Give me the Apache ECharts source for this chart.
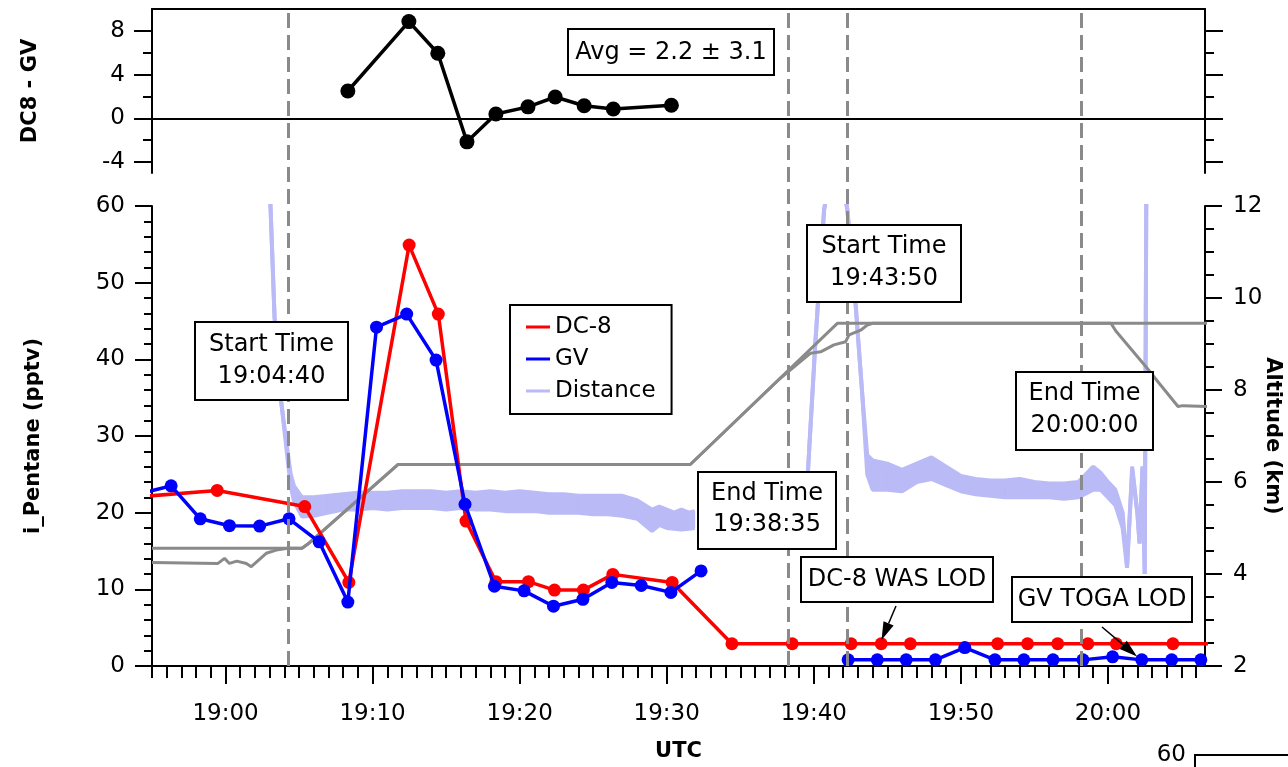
<!DOCTYPE html>
<html><head><meta charset="utf-8">
<script src="https://cdn.jsdelivr.net/npm/echarts@6/dist/echarts.min.js"></script>
<style>html,body{margin:0;padding:0;background:#fff}#c{width:1288px;height:767px}</style>
</head><body><div id="c"></div>
<script>
// ---------------- DATA ----------------
const xTickLabels = ['19:00','19:10','19:20','19:30','19:40','19:50','20:00'];
const xMinTime = '18:55:00';
const xMaxTime = '20:06:36';
const yTopTickLabels = [-4, 0, 4, 8];
const yTopMinorTicks = [-2, 2, 6];

// DC8 - GV difference (top panel)
const diffTimes  = ['19:08:19','19:12:28','19:14:26','19:16:25','19:18:23','19:20:34','19:22:25','19:24:23','19:26:22','19:30:19'];
const diffValues = [2.5, 8.85, 5.95, -2.15, 0.4, 1.05, 1.95, 1.15, 0.85, 1.2];

// DC-8 i_Pentane (pptv)
const dc8Times  = ['18:53:00','18:59:26','19:05:23','19:08:23','19:12:29','19:14:28','19:16:21','19:18:23','19:20:36','19:22:22','19:24:20','19:26:20','19:30:22','19:34:26','19:38:32','19:42:32','19:44:35','19:46:34','19:52:30','19:54:32','19:56:35','19:58:38','20:00:34','20:04:25','20:08:00'];
const dc8Values = [21.9, 22.9, 20.8, 10.9, 54.9, 45.9, 18.9, 11.0, 11.0, 9.9, 9.9, 11.95, 10.9, 2.9, 2.9, 2.9, 2.9, 2.9, 2.9, 2.9, 2.9, 2.9, 2.9, 2.9, 2.9];

// GV i_Pentane (pptv)
const gvTimes  = ['18:54:00','18:56:18','18:58:17','19:00:16','19:02:19','19:04:19','19:06:22','19:08:19','19:10:16','19:12:19','19:14:19','19:16:17','19:18:17','19:20:18','19:22:18','19:24:18','19:26:16','19:28:16','19:30:17','19:32:20','19:37:00','19:42:20','19:44:19','19:46:17','19:48:16','19:50:16','19:52:19','19:54:17','19:56:16','19:58:18','20:00:19','20:02:18','20:04:20','20:06:19'];
const gvValues = [22.4, 23.5, 19.2, 18.3, 18.25, 19.2, 16.2, 8.34, 44.2, 45.9, 39.9, 21.1, 10.4, 9.8, 7.8, 8.7, 10.9, 10.5, 9.6, 12.4, null, 0.8, 0.8, 0.8, 0.8, 2.4, 0.8, 0.8, 0.8, 0.8, 1.2, 0.8, 0.8, 0.8];

// Distance (band: low / high edge, plotted on the i_Pentane scale)
const distTimes = ['19:03:00','19:03:20','19:03:47','19:04:01','19:04:13','19:04:26','19:04:39','19:05:12',
 '19:06:00','19:07:00','19:08:00','19:09:00','19:10:00','19:11:00','19:12:00','19:13:00','19:14:00','19:15:00','19:16:00','19:17:00','19:18:00','19:19:00','19:20:00','19:21:00','19:22:00','19:23:00','19:24:00','19:25:00','19:26:00','19:27:00','19:28:00',
 '19:29:00','19:29:30','19:30:00','19:30:30','19:31:00','19:31:30','19:31:54',
 '19:35:00',
 '19:39:30','19:40:06','19:40:42','19:41:00','19:41:58','19:42:17','19:42:51','19:43:18','19:43:38',
 '19:44:00','19:45:00','19:46:00','19:47:00','19:48:00','19:49:00','19:50:00','19:51:00','19:52:00','19:53:00','19:54:00','19:55:00','19:56:00','19:57:00','19:58:00','19:59:00',
 '19:59:30','20:00:00','20:00:30','20:01:00','20:01:18','20:01:39','20:02:00','20:02:09','20:02:21','20:02:30','20:02:37'];
const distLow = [63, 45.5, 34.5, 30.5, 27, 23.5, 21.5, 19.5,
 19.6, 20.0, 20.4, 20.4, 20.6, 20.4, 20.6, 20.6, 20.6, 20.4, 20.6, 20.4, 20.4, 20.2, 20.2, 20.2, 20.0, 20.0, 20.0, 19.8, 19.8, 19.6, 19.2,
 17.6, 18.4, 18.0, 17.9, 17.8, 17.9, 18.0,
 null,
 22, 42, 59.5, 63, 63, 59.5, 47, 35.3, 25,
 23.0, 23.0, 22.8, 24.0, 24.4, 23.6, 22.8, 22.4, 22.2, 22.0, 22.0, 22.0, 22.0, 21.8, 22.0, 23.0,
 23.0, 22.0, 21.0, 18, 12.8, 25.5, 20, 16, 26, 12, 65];
const distHigh = [63, 45.5, 34.5, 31, 28, 25, 23.5, 22.0,
 22.0, 22.2, 22.4, 22.6, 22.6, 22.6, 22.8, 22.8, 22.8, 22.6, 22.8, 22.6, 22.8, 22.6, 22.8, 22.6, 22.4, 22.4, 22.2, 22.2, 22.2, 22.2, 21.6,
 20.4, 20.8, 20.4, 20.0, 20.4, 20.0, 20.2,
 null,
 22, 42, 59.5, 63, 63, 59.5, 47, 35.3, 27.5,
 26.8, 26.4, 25.6, 26.4, 27.2, 26.0, 24.8, 24.4, 24.2, 24.2, 24.4, 24.0, 23.8, 23.8, 24.0, 26.0,
 25.2, 24.0, 23.0, 20, 13, 26, 20, 16, 26, 12, 65];

// Altitude (km), two aircraft tracks
const altATimes  = ['18:55:00','19:05:12','19:05:36','19:11:43','19:31:36','19:41:36','20:07:00'];
const altAValues = [4.56, 4.56, 4.65, 6.38, 6.38, 9.45, 9.45];
const altBTimes  = ['18:55:00','18:59:29','18:59:56','19:00:16','19:00:46','19:01:25','19:01:45','19:02:46','19:03:27','19:04:14','19:05:12','19:05:36','19:11:43','19:31:36','19:37:42','19:39:47','19:40:28','19:41:22','19:42:10','19:42:24','19:43:11','19:43:38','19:44:00','20:00:12','20:00:34','20:02:36','20:03:24','20:04:46','20:05:06','20:07:00'];
const altBValues = [4.25, 4.23, 4.34, 4.23, 4.28, 4.23, 4.16, 4.45, 4.52, 4.56, 4.56, 4.65, 6.38, 6.38, 8.25, 8.80, 8.83, 8.98, 9.05, 9.2, 9.3, 9.41, 9.45, 9.45, 9.27, 8.5, 8.18, 7.64, 7.66, 7.64];

// Start / end time markers (dashed lines)
const markerTimes = ['19:04:15','19:38:16','19:42:15','19:58:11'];

// ---------------- HELPERS ----------------
function toMin(s){ const p = s.split(':').map(Number); return (p[0]-19)*60 + p[1] + (p[2]||0)/60; }
function pairs(times, vals){ return times.map((t,i)=>[toMin(t), vals[i]==null ? '-' : vals[i]]); }
function fmtLabel(v){ const tot = Math.round(v) + 19*60; const h = Math.floor(tot/60), m = tot%60; return h + ':' + String(m).padStart(2,'0'); }

const FONT = 'DejaVu Sans';
const XMIN = toMin(xMinTime), XMAX = toMin(xMaxTime);
const xMajor = xTickLabels.map(l => toMin(l + ':00'));
const xMinor = []; for (let m = Math.ceil(XMIN); m <= XMAX; m++) xMinor.push(m);

const BLACK = '#000';
const axisLineS = {show:true, onZero:false, lineStyle:{color:BLACK, width:2}};
const noLine = {show:false, onZero:false};
const tickS = (len, vals) => ({show:true, length:len, lineStyle:{color:BLACK, width:2}, customValues: vals});
const labelFont = {fontSize:23, color:BLACK, fontFamily:FONT};
const titleFont = {fontSize:21, fontWeight:'bold', color:BLACK, fontFamily:FONT};

const GL = 152, GR = 1288 - 1205;
const LAV = '#babaf7';
const GRAY = '#8a8a8a';

// band polygons drawn through the axes' own scales
function renderBand(params, api){
  const i = params.dataIndex;
  if (i >= distTimes.length - 1) return null;
  if (distLow[i] == null || distLow[i+1] == null) return null;
  const ta = toMin(distTimes[i]), tb = toMin(distTimes[i+1]);
  const pts = [api.coord([ta, distLow[i]]), api.coord([tb, distLow[i+1]]), api.coord([tb, distHigh[i+1]]), api.coord([ta, distHigh[i]])];
  return {type:'polygon', shape:{points:pts}, style:{fill:LAV, stroke:LAV, lineWidth:1}};
}

// annotation boxes (layout)
const boxes = [
  {x0:568, y0:29,  x1:774,  y1:75,  lines:['Avg = 2.2 \u00B1 3.1'], size:24, ly:[53]},
  {x0:195, y0:322, x1:348,  y1:400, lines:['Start Time','19:04:40'], size:24, ly:[345,377]},
  {x0:807, y0:225, x1:961,  y1:302, lines:['Start Time','19:43:50'], size:24, ly:[247,279]},
  {x0:698, y0:472, x1:836,  y1:549, lines:['End Time','19:38:35'], size:24, ly:[494,525]},
  {x0:1016,y0:372, x1:1153, y1:450, lines:['End Time','20:00:00'], size:24, ly:[394,426]},
  {x0:801, y0:557, x1:993,  y1:602, lines:['DC-8 WAS LOD'], size:24, ly:[580]},
  {x0:1012,y0:577, x1:1192, y1:622, lines:['GV TOGA LOD'], size:24, ly:[600]}
];
const arrows = [
  {from:[896,606], to:[881.5,640]},
  {from:[1102,627], to:[1137,656.5]}
];

const graphic = [];
boxes.forEach(b => {
  graphic.push({type:'rect', z:100, shape:{x:b.x0, y:b.y0, width:b.x1-b.x0, height:b.y1-b.y0}, style:{fill:'#fff', stroke:BLACK, lineWidth:2}});
  b.lines.forEach((ln, i) => graphic.push({type:'text', z:101, style:{text:ln, x:(b.x0+b.x1)/2, y:b.ly[i], font:b.size+'px "'+FONT+'"', fill:BLACK, align:'center', verticalAlign:'middle'}}));
});
arrows.forEach(a => {
  const dx = a.to[0]-a.from[0], dy = a.to[1]-a.from[1], L = Math.hypot(dx,dy);
  const ux = dx/L, uy = dy/L, hl = 18, hw = 5.5;
  const bx = a.to[0]-ux*hl, by = a.to[1]-uy*hl;
  graphic.push({type:'line', z:102, shape:{x1:a.from[0], y1:a.from[1], x2:bx, y2:by}, style:{stroke:BLACK, lineWidth:1.5}});
  graphic.push({type:'polygon', z:102, shape:{points:[[a.to[0],a.to[1]],[bx-uy*hw, by+ux*hw],[bx+uy*hw, by-ux*hw]]}, style:{fill:BLACK}});
});
graphic.push({type:'polyline', z:100, shape:{points:[[1195,767],[1195,755],[1290,755]]}, style:{stroke:BLACK, lineWidth:2, fill:null}});
graphic.push({type:'text', z:100, style:{text:'60', x:1186, y:755, font:'23px "'+FONT+'"', fill:BLACK, align:'right', verticalAlign:'middle'}});

const gridBase = {left:GL, right:GR, containLabel:false, outerBoundsMode:'none'};
const option = {
  animation:false,
  backgroundColor:'#fff',
  grid:[
    Object.assign({top:9, height:164}, gridBase),
    Object.assign({top:206, height:460}, gridBase),
    Object.assign({top:9, height:657}, gridBase)
  ],
  legend:{
    data:['DC-8','GV','Distance'], orient:'vertical', left:510, top:305,
    icon:'rect', itemWidth:24, itemHeight:3, itemGap:8, padding:[10,16,11,16],
    borderColor:BLACK, borderWidth:2, backgroundColor:'#fff',
    textStyle:{fontSize:23, fontFamily:FONT, color:BLACK, lineHeight:24}
  },
  xAxis:[
    {gridIndex:0, type:'value', min:XMIN, max:XMAX, position:'top', axisLine:axisLineS, axisTick:{show:false}, axisLabel:{show:false}, splitLine:{show:false}},
    {gridIndex:1, type:'value', min:XMIN, max:XMAX, position:'bottom', axisLine:axisLineS, axisTick:tickS(18, xMajor),
      axisLabel:Object.assign({customValues:xMajor, margin:37, formatter:fmtLabel}, labelFont), splitLine:{show:false},
      name:'UTC', nameLocation:'middle', nameGap:75, nameMoveOverlap:false, nameTextStyle:titleFont},
    {gridIndex:1, type:'value', min:XMIN, max:XMAX, position:'bottom', axisLine:noLine, axisTick:tickS(12, xMinor), axisLabel:{show:false}, splitLine:{show:false}},
    {gridIndex:2, type:'value', min:XMIN, max:XMAX, show:false}
  ],
  yAxis:[
    {gridIndex:0, type:'value', min:-5, max:10, position:'left', axisLine:axisLineS, axisTick:tickS(18, yTopTickLabels),
      axisLabel:Object.assign({customValues:yTopTickLabels, margin:27}, labelFont), splitLine:{show:false},
      name:'DC8 - GV', nameLocation:'middle', nameGap:111, nameMoveOverlap:false, nameTextStyle:titleFont},
    {gridIndex:0, type:'value', min:-5, max:10, position:'left', axisLine:noLine, axisTick:tickS(9, yTopMinorTicks), axisLabel:{show:false}, splitLine:{show:false}},
    {gridIndex:0, type:'value', min:-5, max:10, position:'right', axisLine:axisLineS, axisTick:tickS(18, yTopTickLabels), axisLabel:{show:false}, splitLine:{show:false}},
    {gridIndex:0, type:'value', min:-5, max:10, position:'right', axisLine:noLine, axisTick:tickS(9, yTopMinorTicks), axisLabel:{show:false}, splitLine:{show:false}},
    {gridIndex:1, type:'value', min:0, max:60, interval:10, position:'left', axisLine:axisLineS,
      axisTick:{show:true, length:17, lineStyle:{color:BLACK, width:2}},
      minorTick:{show:true, splitNumber:5, length:8, lineStyle:{color:BLACK, width:2}},
      axisLabel:Object.assign({margin:27}, labelFont), splitLine:{show:false}, minorSplitLine:{show:false},
      name:'i_Pentane (pptv)', nameLocation:'middle', nameGap:108, nameMoveOverlap:false, nameTextStyle:titleFont},
    {gridIndex:1, type:'value', min:2, max:12, interval:2, position:'right', axisLine:axisLineS,
      axisTick:{show:true, length:17, lineStyle:{color:BLACK, width:2}},
      minorTick:{show:true, splitNumber:4, length:9, lineStyle:{color:BLACK, width:2}},
      axisLabel:Object.assign({margin:28}, labelFont), splitLine:{show:false}, minorSplitLine:{show:false},
      name:'Altitude (km)', nameLocation:'middle', nameGap:57, nameRotate:-90, nameMoveOverlap:false, nameTextStyle:titleFont},
    {gridIndex:2, type:'value', min:0, max:1, show:false}
  ],
  series:[
    {name:'DC8-GV', type:'line', xAxisIndex:0, yAxisIndex:0, data:pairs(diffTimes, diffValues), z:5,
      color:BLACK, lineStyle:{width:3.5, color:BLACK}, symbol:'circle', symbolSize:15, itemStyle:{color:BLACK},
      markLine:{silent:true, symbol:['none','none'], label:{show:false}, lineStyle:{color:BLACK, type:'solid', width:2}, data:[{yAxis:0}]}},
    {name:'Distance band', type:'custom', xAxisIndex:1, yAxisIndex:4, clip:true, z:1, silent:true,
      data:distTimes.map((t,i)=>[toMin(t), distLow[i]==null?'-':distLow[i], distHigh[i]==null?'-':distHigh[i]]),
      encode:{x:0, y:[1,2]}, renderItem:renderBand},
    {name:'Distance low', type:'line', xAxisIndex:1, yAxisIndex:4, data:pairs(distTimes, distLow), z:1,
      color:LAV, lineStyle:{width:4, color:LAV}, showSymbol:false, symbol:'none'},
    {name:'Distance', type:'line', xAxisIndex:1, yAxisIndex:4, data:pairs(distTimes, distHigh), z:1,
      color:LAV, lineStyle:{width:4, color:LAV}, showSymbol:false, symbol:'none'},
    {name:'Altitude A', type:'line', xAxisIndex:1, yAxisIndex:5, data:pairs(altATimes, altAValues), z:2,
      color:GRAY, lineStyle:{width:3, color:GRAY}, showSymbol:false, symbol:'none'},
    {name:'Altitude B', type:'line', xAxisIndex:1, yAxisIndex:5, data:pairs(altBTimes, altBValues), z:2,
      color:GRAY, lineStyle:{width:3, color:GRAY}, showSymbol:false, symbol:'none'},
    {name:'DC-8', type:'line', xAxisIndex:1, yAxisIndex:4, data:pairs(dc8Times, dc8Values), z:3,
      color:'#ff0000', lineStyle:{width:3.5, color:'#ff0000'}, symbol:'circle', symbolSize:13, itemStyle:{color:'#ff0000'}},
    {name:'GV', type:'line', xAxisIndex:1, yAxisIndex:4, data:pairs(gvTimes, gvValues), z:4,
      color:'#0000ff', lineStyle:{width:3.5, color:'#0000ff'}, symbol:'circle', symbolSize:13, itemStyle:{color:'#0000ff'}},
    {name:'markers', type:'line', xAxisIndex:3, yAxisIndex:6, data:[], z:8,
      markLine:{silent:true, symbol:['none','none'], label:{show:false},
        lineStyle:{color:GRAY, type:[15,7], width:3}, data:markerTimes.map(t=>({xAxis:toMin(t)}))}}
  ],
  graphic: graphic
};
const chart = echarts.init(document.getElementById('c'), null, {renderer:'canvas'});
chart.setOption(option);
</script></body></html>
